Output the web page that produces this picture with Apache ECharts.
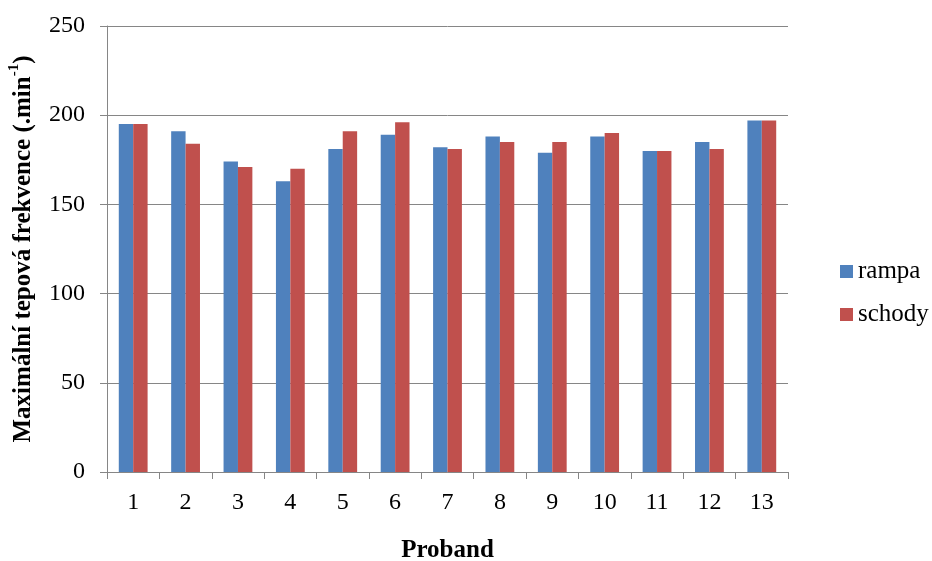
<!DOCTYPE html>
<html><head><meta charset="utf-8">
<script src="https://cdn.jsdelivr.net/npm/echarts@6/dist/echarts.min.js"></script>
<style>html,body{margin:0;padding:0;background:#fff}#c{width:932px;height:561px}</style>
</head><body><div id="c"></div>
<script>
const categories = ['1','2','3','4','5','6','7','8','9','10','11','12','13'];
const rampa = [195,191,174,163,181,189,182,188,179,188,180,185,197];
const schody = [195,184,171,170,191,196,181,185,185,190,180,181,197];
const yTicks = [0,50,100,150,200,250];

const font = '"Liberation Serif","Times New Roman",serif';
const chart = echarts.init(document.getElementById('c'));
chart.setOption({
  animation:false,
  grid:{left:107,right:144,top:26,bottom:89,outerBoundsMode:'none',containLabel:false},
  legend:{
    orient:'vertical', left:835, top:254, itemWidth:13, itemHeight:13, itemGap:18,
    icon:'rect',
    textStyle:{fontFamily:font,fontSize:25,color:'#000'},
    data:['rampa','schody']
  },
  xAxis:{
    type:'category', data:categories,
    name:'Proband', nameLocation:'middle', nameGap:66,
    nameTextStyle:{fontFamily:font,fontSize:25,fontWeight:'bold',color:'#000'},
    axisLine:{lineStyle:{color:'#868686'}},
    axisTick:{show:true,length:7,alignWithLabel:false,lineStyle:{color:'#868686'}},
    axisLabel:{fontFamily:font,fontSize:24,color:'#000',margin:19}
  },
  yAxis:{
    type:'value', min:yTicks[0], max:yTicks[yTicks.length-1], interval:50,
    name:'{n|Maximální tepová frekvence (.min}{s|-1}{n|)}',
    nameLocation:'middle', nameGap:71,
    nameTextStyle:{
      rich:{
        n:{fontFamily:font,fontSize:25,fontWeight:'bold',color:'#000',lineHeight:29,verticalAlign:'bottom'},
        s:{fontFamily:font,fontSize:15,fontWeight:'bold',color:'#000',lineHeight:29,verticalAlign:'top'}
      }
    },
    axisLine:{show:true,lineStyle:{color:'#868686'}},
    axisTick:{show:true,length:7,lineStyle:{color:'#868686'}},
    axisLabel:{fontFamily:font,fontSize:24,color:'#000',margin:22},
    splitLine:{lineStyle:{color:'#868686',width:1}}
  },
  series:[
    {name:'rampa',type:'bar',data:rampa,barGap:'0%',barCategoryGap:'45%',itemStyle:{color:'#4F81BD'}},
    {name:'schody',type:'bar',data:schody,itemStyle:{color:'#C0504D'}}
  ]
});
</script></body></html>
